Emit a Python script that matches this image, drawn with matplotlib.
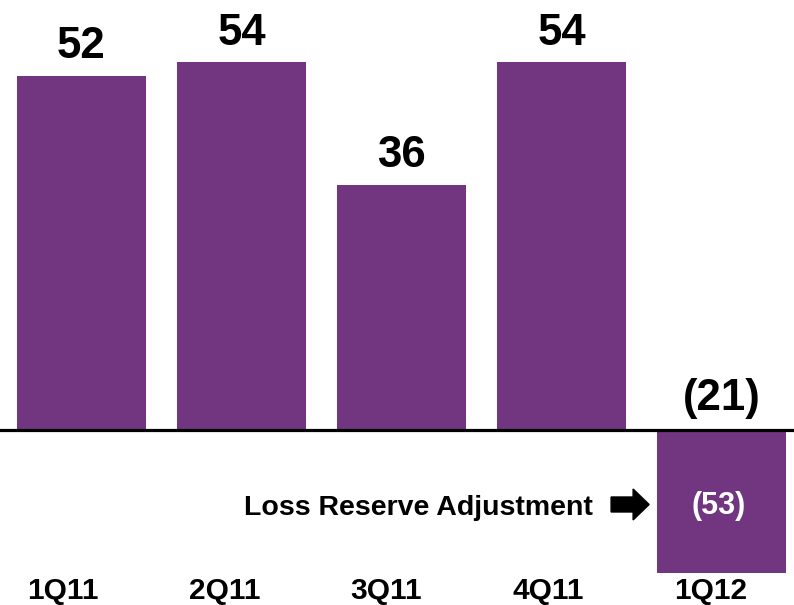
import matplotlib.pyplot as plt
from matplotlib.patches import FancyArrow

plt.rcParams['font.family'] = ['Liberation Sans', 'DejaVu Sans']
plt.rcParams['font.weight'] = 'bold'

quarters = ["1Q11", "2Q11", "3Q11", "4Q11", "1Q12"]
results = [52, 54, 36, 54, -21]
value_labels = ["52", "54", "36", "54", "(21)"]
adjustment = 53
adjustment_label = "Loss Reserve Adjustment"

purple = "#72357f"

fig = plt.figure(figsize=(7.94, 6.05), dpi=100)
ax = fig.add_axes([0, 0, 1, 1])

xs = list(range(len(quarters)))
ax.bar(xs, results, width=0.806, color=purple, zorder=2)
ax.axhline(0, color="black", linewidth=2.3, zorder=3)

# values over the bars (the negative quarter shows its figure above the line)
for x, v, lab in zip(xs, results, value_labels):
    y = v + 2.6 if v > 0 else 2.9
    ax.text(x, y, lab, ha="center", va="baseline", fontsize=31.5, fontweight="bold")

# quarter names along the bottom, spaced a little wider than the bars
for x, q in zip(xs, quarters):
    ax.text(-0.119 + x * 1.0125, -24.8, q, ha="center", va="baseline",
            fontsize=21.5, fontweight="bold")

# adjustment callout inside the last bar
ax.text(xs[-1] - 0.015, -12.35, "(%d)" % adjustment, ha="center", va="baseline",
        fontsize=22, fontweight="bold", color="white", zorder=4)
ax.text(3.198, -12.5, adjustment_label, ha="right", va="baseline",
        fontsize=20.5, fontweight="bold")
ax.add_patch(FancyArrow(3.31, -10.94, 0.2375, 0, width=2.2, head_width=4.55,
                        head_length=0.1, length_includes_head=True,
                        color="black", zorder=4))

ax.set_xlim(-0.509, 4.453)
ax.set_ylim(-25.7, 63.14)
ax.axis("off")

fig.savefig("out.png", dpi=100)
